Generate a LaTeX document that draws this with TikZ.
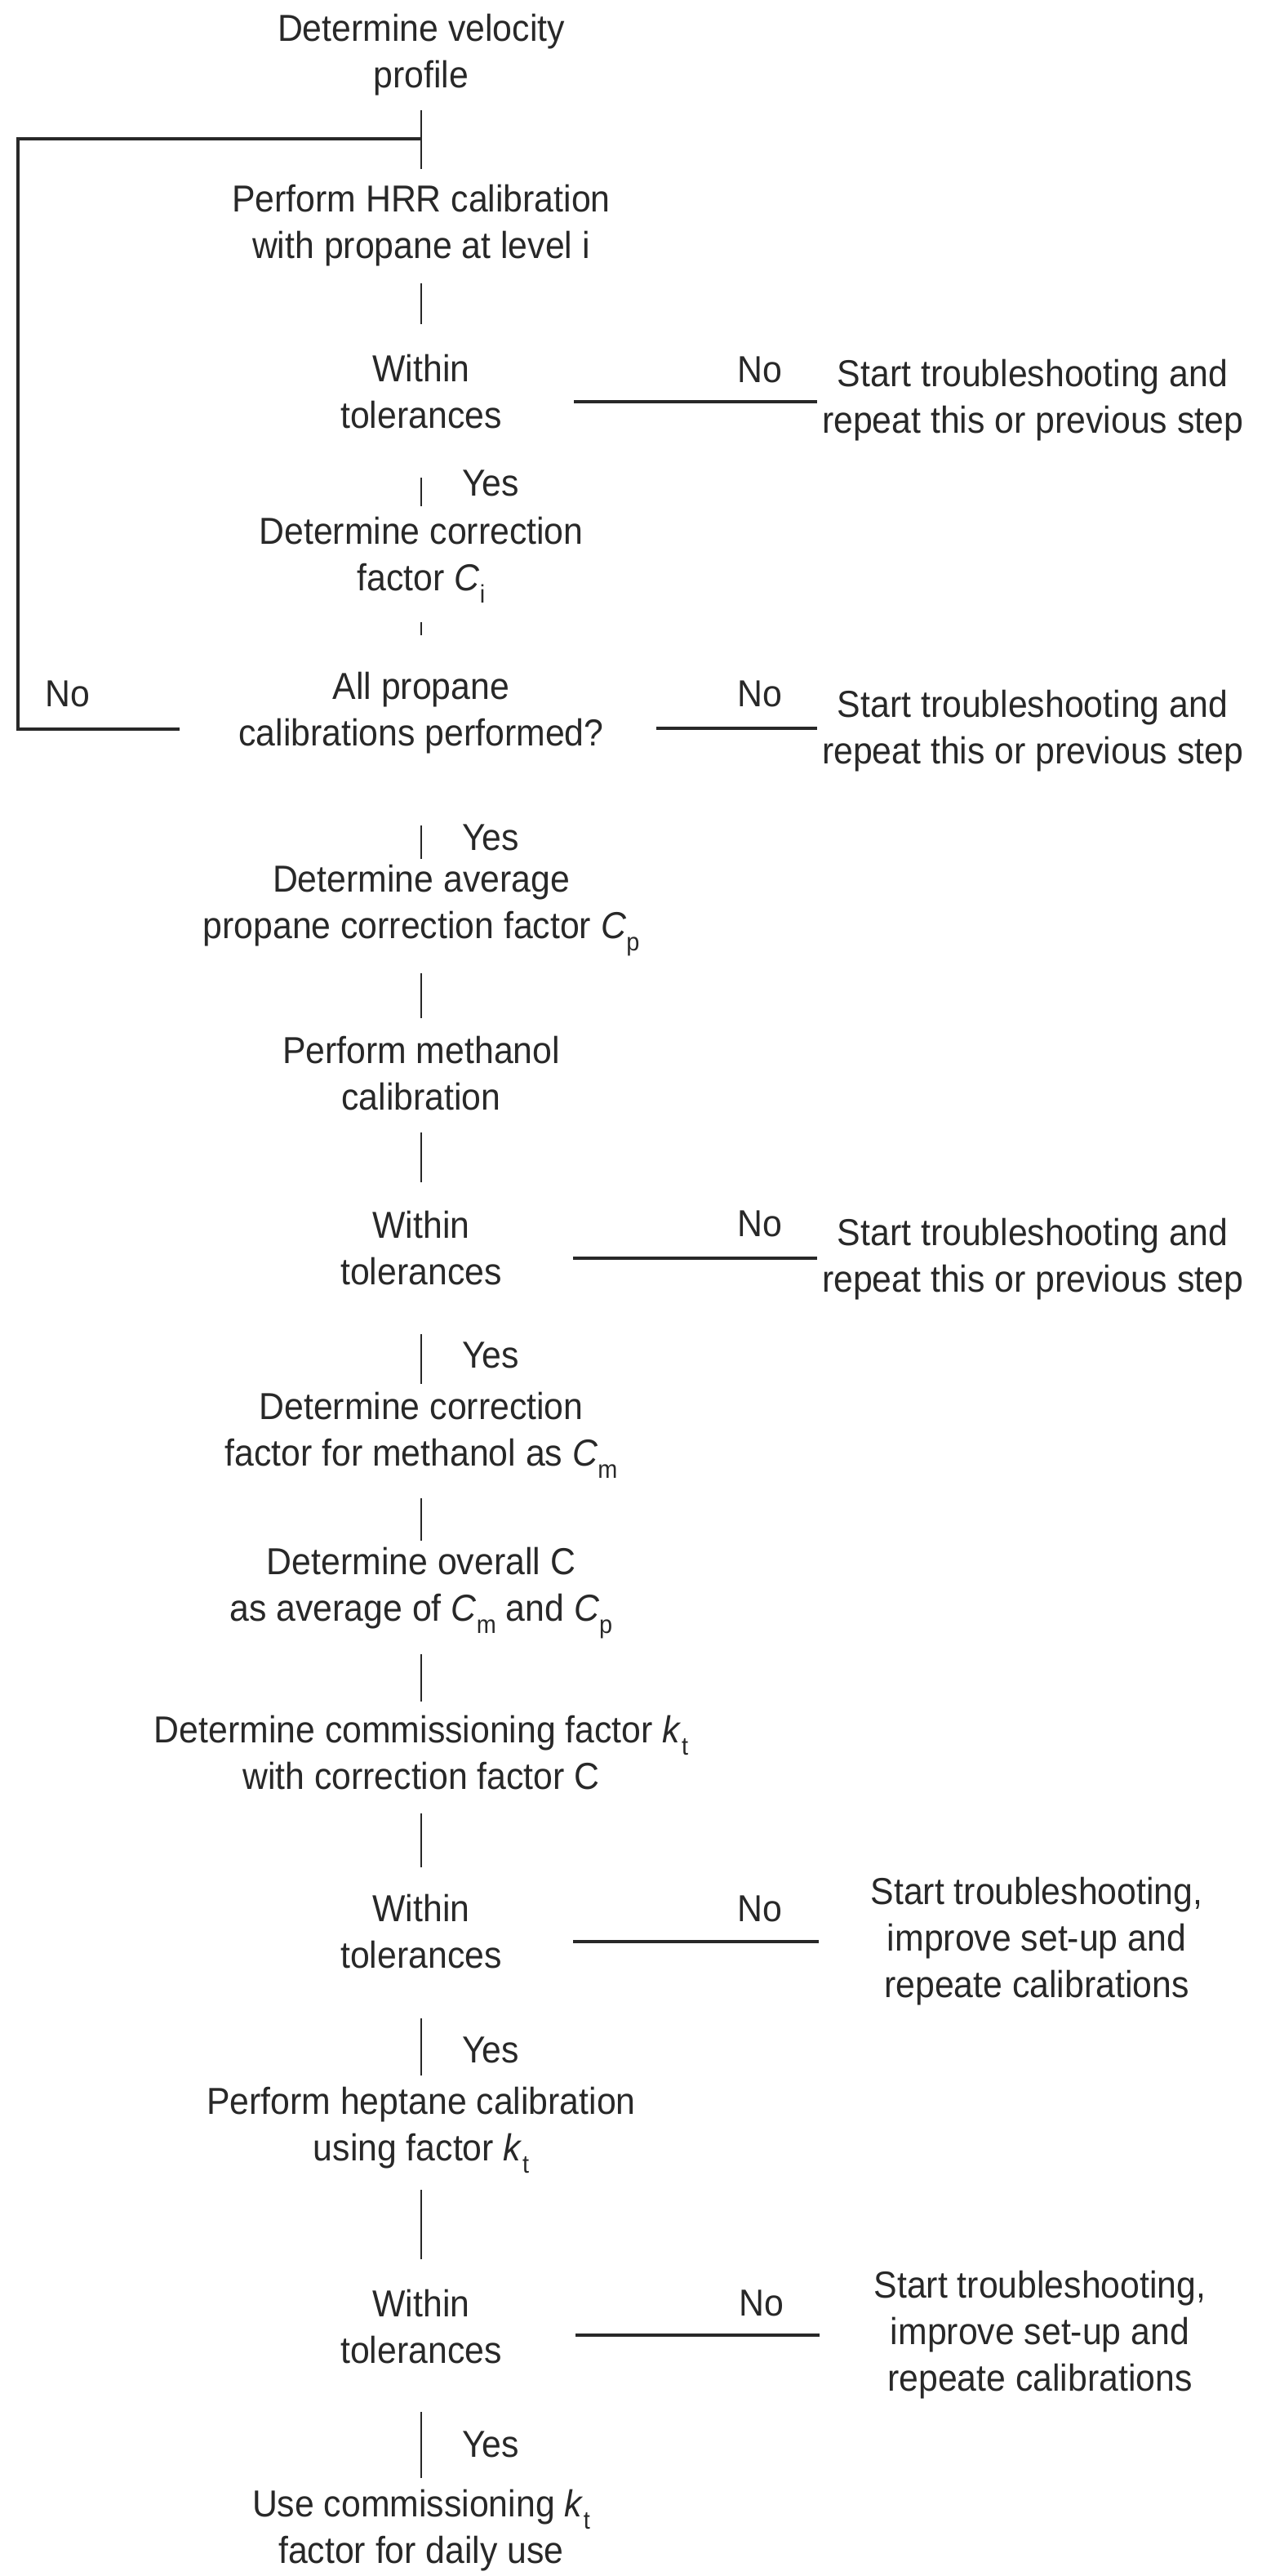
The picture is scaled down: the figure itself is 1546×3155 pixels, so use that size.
\documentclass[tikz,border=0pt]{standalone}
\usepackage{fontspec}
\setmainfont{Liberation Sans}[FakeStretch=0.93]
\definecolor{ink}{RGB}{40,40,40}
\newcommand\sbx[1]{\raisebox{-0.32em}{\fontsize{31}{31}\selectfont #1}}
\newcommand\vC{\textit{C}}
\newcommand\vk{\textit{k}}
\begin{document}
\begin{tikzpicture}[x=1pt,y=1pt,
  txt/.style={font=\fontsize{46}{57}\selectfont, align=center, text=ink, inner sep=0pt},
  lbl/.style={font=\fontsize{46}{57}\selectfont, text=ink, inner sep=0pt},
  conn/.style={draw=ink, line width=2.6pt},
  hconn/.style={draw=ink, line width=3.6pt}]
\useasboundingbox (0,0) rectangle (1546,-3155);
% main column
\node[txt] (n1) at (516,-67) {Determine velocity\\profile};
\node[txt] (n2) at (516,-276) {Perform HRR calibration\\with propane at level i};
\node[txt] (d1) at (516,-480) {Within\\tolerances};
\node[txt] (n3) at (516,-686) {Determine correction\\factor \vC\sbx{i}};
\node[txt] (d2) at (516,-873) {All propane\\calibrations performed?};
\node[txt] (n4) at (516,-1115) {Determine average\\propane correction factor \vC\sbx{p}};
\node[txt] (n5) at (516,-1315) {Perform methanol\\calibration};
\node[txt] (d3) at (516,-1529) {Within\\tolerances};
\node[txt] (n6) at (516,-1758) {Determine correction\\factor for methanol as \vC\sbx{m}};
\node[txt] (n7) at (516,-1951) {Determine overall C\\as average of \vC\sbx{m} and \vC\sbx{p}};
\node[txt] (n8) at (516,-2147) {Determine commissioning factor \vk\sbx{t}\\with correction factor C};
\node[txt] (d4) at (516,-2366) {Within\\tolerances};
\node[txt] (n9) at (516,-2609) {Perform heptane calibration\\using factor \vk\sbx{t}};
\node[txt] (d5) at (516,-2850) {Within\\tolerances};
\node[txt] (n10) at (516,-3099) {Use commissioning \vk\sbx{t}\\factor for daily use};
% right column
\node[txt] (r1) at (1265,-490) {Start troubleshooting and\\repeat this or previous step};
\node[txt] (r2) at (1265,-895) {Start troubleshooting and\\repeat this or previous step};
\node[txt] (r3) at (1265,-1542) {Start troubleshooting and\\repeat this or previous step};
\node[txt] (r4) at (1270,-2378) {Start troubleshooting,\\improve set-up and\\repeate calibrations};
\node[txt] (r5) at (1274,-2860) {Start troubleshooting,\\improve set-up and\\repeate calibrations};
% labels
\node[lbl] (no1) at (931,-453) {No};
\node[lbl] (no2) at (931,-850) {No};
\node[lbl] (no0) at (83,-850) {No};
\node[lbl] (no3) at (931,-1499) {No};
\node[lbl] (no4) at (931,-2338) {No};
\node[lbl] (no5) at (933,-2821) {No};
\node[lbl] (y1) at (601,-592) {Yes};
\node[lbl] (y2) at (601,-1026) {Yes};
\node[lbl] (y3) at (601,-1660) {Yes};
\node[lbl] (y4) at (601,-2511) {Yes};
\node[lbl] (y5) at (601,-2994) {Yes};
% vertical connectors
\draw[conn] ([yshift=-68pt]n1.center) -- ([yshift=69pt]n2.center);
\draw[conn] ([yshift=-71pt]n2.center) -- ([yshift=83pt]d1.center);
\draw[conn] ([yshift=-105pt]d1.center) -- ([yshift=66pt]n3.center);
\draw[conn] ([yshift=-76pt]n3.center) -- ([yshift=95pt]d2.center);
\draw[conn] ([yshift=-138pt]d2.center) -- ([yshift=63pt]n4.center);
\draw[conn] ([yshift=-77pt]n4.center) -- ([yshift=68pt]n5.center);
\draw[conn] ([yshift=-72pt]n5.center) -- ([yshift=81pt]d3.center);
\draw[conn] ([yshift=-105pt]d3.center) -- ([yshift=63pt]n6.center);
\draw[conn] ([yshift=-77pt]n6.center) -- ([yshift=64pt]n7.center);
\draw[conn] ([yshift=-75pt]n7.center) -- ([yshift=63pt]n8.center);
\draw[conn] ([yshift=-74pt]n8.center) -- ([yshift=79pt]d4.center);
\draw[conn] ([yshift=-106pt]d4.center) -- ([yshift=67pt]n9.center);
\draw[conn] ([yshift=-73pt]n9.center) -- ([yshift=83pt]d5.center);
\draw[conn] ([yshift=-104pt]d5.center) -- ([yshift=64pt]n10.center);
% horizontal "No" connectors
\draw[hconn] ([xshift=187pt,yshift=-12pt]d1.center) coordinate (s1) -- ([xshift=-264pt]r1.center |- s1);
\draw[hconn] ([xshift=288pt,yshift=-19pt]d2.center) coordinate (s2) -- ([xshift=-264pt]r2.center |- s2);
\draw[hconn] ([xshift=186pt,yshift=-12pt]d3.center) coordinate (s3) -- ([xshift=-264pt]r3.center |- s3);
\draw[hconn] ([xshift=186pt,yshift=-12pt]d4.center) coordinate (s4) -- ([xshift=-267pt]r4.center |- s4);
\draw[hconn] ([xshift=189pt,yshift=-10pt]d5.center) coordinate (s5) -- ([xshift=-270pt]r5.center |- s5);
% feedback loop
\coordinate (j1) at ([yshift=-103pt]n1.center);
\coordinate (lx) at (22,-170);
\draw[hconn, line join=miter] ([xshift=-296pt,yshift=-20pt]d2.center) -| (lx) -- (j1);
\end{tikzpicture}
\end{document}
